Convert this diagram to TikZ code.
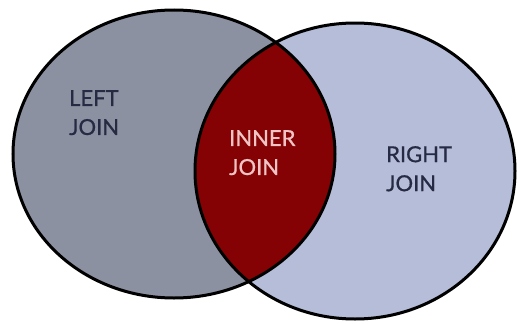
\documentclass[tikz,border=0pt]{standalone}
\usepackage{fontspec}
\setmainfont{Lato}
\newfontfamily\labelfont[FakeBold=0.8]{Lato}
\definecolor{leftfill}{RGB}{140,145,162}
\definecolor{rightfill}{RGB}{181,189,216}
\definecolor{innerfill}{RGB}{132,2,4}
\definecolor{darktext}{RGB}{38,42,66}
\definecolor{innertext}{RGB}{240,196,196}
\tikzset{
  outline/.style={draw=black, line width=3pt},
  label/.style={inner sep=0pt, anchor=north west, align=left,
    font=\labelfont\fontsize{22}{29}\selectfont},
}
\begin{document}
\begin{tikzpicture}[x=1pt,y=-1pt]
\useasboundingbox[fill=white] (0,0) rectangle (517,324);
\fill[leftfill] (174,154) ellipse [x radius=161, y radius=144];
\fill[rightfill] (355,171) ellipse [x radius=160, y radius=148];
\begin{scope}
  \clip (174,154) ellipse [x radius=161, y radius=144];
  \fill[innerfill] (355,171) ellipse [x radius=160, y radius=148];
\end{scope}
\draw[outline] (174,154) ellipse [x radius=161, y radius=144];
\draw[outline] (355,171) ellipse [x radius=160, y radius=148];
\node[label, text=darktext] (left) at (69,90) {LEFT\\JOIN};
\node[label, text=innertext] (inner) at (229,130) {INNER\\JOIN};
\node[label, text=darktext] (right) at (386,146) {RIGHT\\JOIN};
\end{tikzpicture}
\end{document}
